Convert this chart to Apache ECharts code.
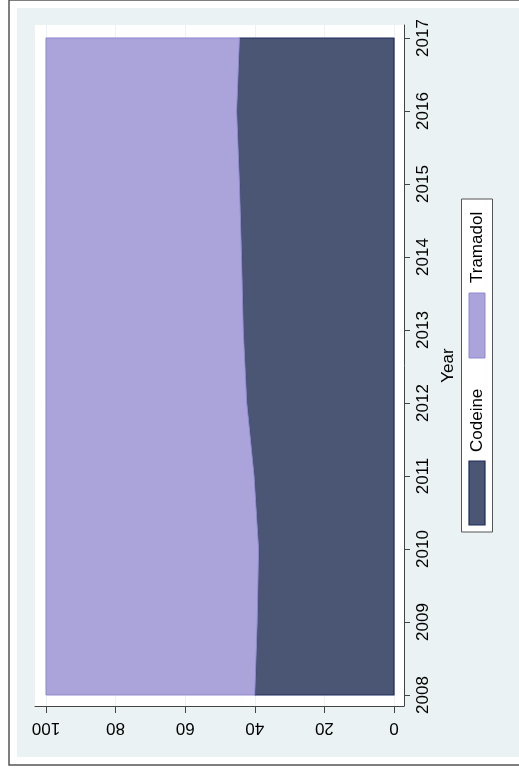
<!DOCTYPE html>
<html>
<head>
<meta charset="utf-8">
<script src="https://cdn.jsdelivr.net/npm/echarts@6/dist/echarts.min.js"></script>
<style>
  html, body { margin: 0; padding: 0; background: #ffffff; }
  #chart { width: 519px; height: 769px; }
</style>
</head>
<body>
<div id="chart"></div>
<script>
// Share of prescriptions (%) by year
const years = [2008, 2009, 2010, 2011, 2012, 2013, 2014, 2015, 2016, 2017];
const codeine = [40.0, 39.3, 38.9, 40.2, 42.3, 43.3, 43.8, 44.4, 45.2, 44.4];
const tramadol = [60.0, 60.7, 61.1, 59.8, 57.7, 56.7, 56.2, 55.6, 54.8, 55.6];
const valueTicks = [0, 20, 40, 60, 80, 100];
const yearTicks = years.slice();
const seriesNames = ['Codeine', 'Tramadol'];
const yearTitle = 'Year';

const FONT = "'Liberation Sans', Arial, Helvetica, sans-serif";
const COLORS = {
  codeineFill: '#4b5675', codeineLine: '#1f2a5c',
  tramadolFill: '#aaa4db', tramadolLine: '#8f89cf',
  region: '#eaf2f3', axis: '#444444'
};

const chart = echarts.init(document.getElementById('chart'), null, { renderer: 'canvas' });

// Stacked band between `lower` and `lower + values`, drawn as one polygon via the axis scales
function bandSeries(name, lower, values, fill, stroke, lineWidth) {
  return {
    name: name,
    type: 'custom',
    coordinateSystem: 'cartesian2d',
    encode: { x: 0, y: 1 },
    data: years.map((y, i) => [lower[i] + values[i], y]),
    renderItem: function (params, api) {
      if (params.dataIndex !== 0) return null;
      const pts = [];
      for (let i = 0; i < years.length; i++) pts.push(api.coord([lower[i] + values[i], years[i]]));
      for (let i = years.length - 1; i >= 0; i--) pts.push(api.coord([lower[i], years[i]]));
      return {
        type: 'polygon',
        shape: { points: pts },
        style: { fill: fill, stroke: stroke, lineWidth: lineWidth, lineJoin: 'round' }
      };
    },
    silent: true
  };
}

// Legend drawn as a rotated group (reads bottom-to-top like the axis labels)
function legendGroup() {
  return {
    type: 'group',
    x: 477, y: 365.5,
    rotation: Math.PI / 2,
    z: 100,
    children: [
      { type: 'rect', shape: { x: -166.5, y: -15.5, width: 333, height: 31 },
        style: { fill: '#ffffff', stroke: '#555555', lineWidth: 1 } },
      { type: 'rect', shape: { x: -159.5, y: -8, width: 64, height: 16 },
        style: { fill: COLORS.codeineFill, stroke: COLORS.codeineLine, lineWidth: 1.2 } },
      { type: 'text', x: -86.5, y: 0.5,
        style: { text: seriesNames[0], font: '17px ' + FONT, fill: '#000', textAlign: 'left', textVerticalAlign: 'middle' } },
      { type: 'rect', shape: { x: 7.5, y: -8, width: 65, height: 16 },
        style: { fill: COLORS.tramadolFill, stroke: COLORS.tramadolLine, lineWidth: 1 } },
      { type: 'text', x: 82.5, y: 0.5,
        style: { text: seriesNames[1], font: '17px ' + FONT, fill: '#000', textAlign: 'left', textVerticalAlign: 'middle' } }
    ]
  };
}

const zeros = years.map(() => 0);

const option = {
  animation: false,
  backgroundColor: '#ffffff',
  textStyle: { fontFamily: FONT },
  graphic: [
    { type: 'rect', z: -20, shape: { x: 9, y: 0, width: 520, height: 765 },
      style: { fill: '#ffffff', stroke: '#555555', lineWidth: 1.5 } },
    { type: 'rect', z: -10, shape: { x: 17, y: 8, width: 510, height: 749 },
      style: { fill: COLORS.region } },
    legendGroup()
  ],
  grid: {
    left: 35, right: 519 - 404, top: 25, bottom: 769 - 706,
    show: true, backgroundColor: '#ffffff', borderWidth: 0, containLabel: false
  },
  xAxis: {
    type: 'value',
    inverse: true,
    position: 'bottom',
    min: -2.87, max: 103.16,
    axisLine: { show: true, onZero: false, lineStyle: { color: COLORS.axis, width: 1 } },
    axisTick: { show: true, length: 7, customValues: valueTicks, lineStyle: { color: COLORS.axis } },
    axisLabel: { customValues: valueTicks, rotate: 180, fontSize: 17, color: '#000', margin: 13, fontFamily: FONT },
    splitLine: { show: true, lineStyle: { color: COLORS.region, width: 1 } }
  },
  yAxis: {
    type: 'value',
    position: 'right',
    min: 2008 - 0.151,
    max: 2017 + 0.178,
    name: yearTitle,
    nameLocation: 'middle',
    nameRotate: 90,
    nameGap: 32,
    nameTextStyle: { fontSize: 17, color: '#000', fontFamily: FONT },
    axisLine: { show: true, onZero: false, lineStyle: { color: COLORS.axis, width: 1 } },
    axisTick: { show: true, length: 6, customValues: yearTicks, lineStyle: { color: COLORS.axis } },
    axisLabel: {
      customValues: yearTicks, rotate: 90, fontSize: 17, color: '#000', margin: 11, fontFamily: FONT,
      formatter: v => String(v)
    },
    splitLine: { show: false }
  },
  series: [
    bandSeries(seriesNames[0], zeros, codeine, COLORS.codeineFill, COLORS.codeineLine, 1.2),
    bandSeries(seriesNames[1], codeine, tramadol, COLORS.tramadolFill, COLORS.tramadolLine, 1)
  ]
};

chart.setOption(option);
</script>
</body>
</html>
